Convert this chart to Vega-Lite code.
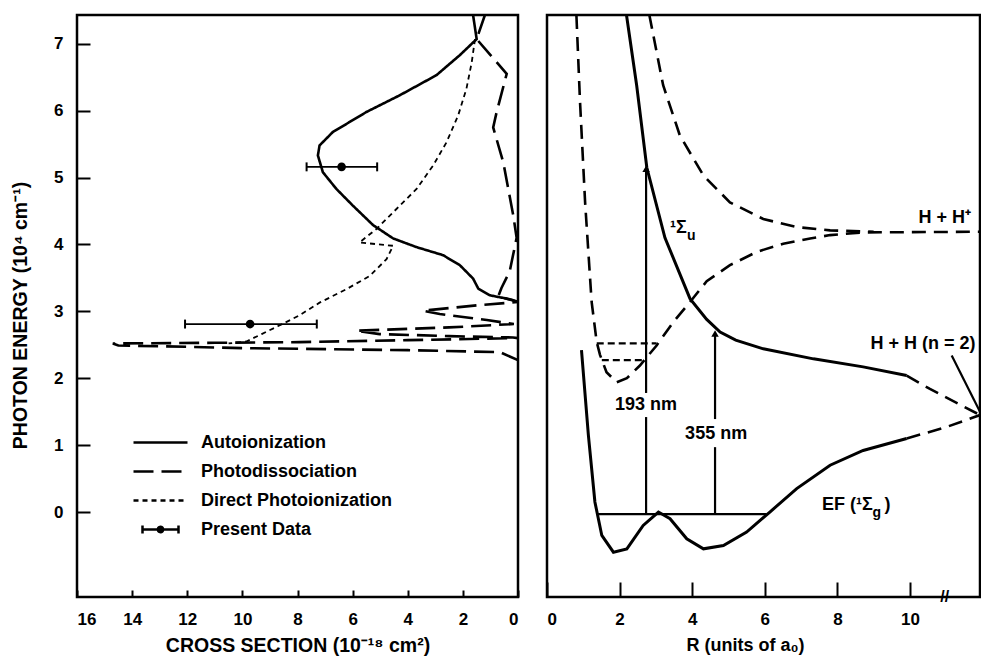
{
  "$schema": "https://vega.github.io/schema/vega-lite/v6.json",
  "padding": {"left": 8, "top": 13, "right": 0, "bottom": 0},
  "bounds": "flush",
  "spacing": 29,
  "config": {
    "font": "Liberation Sans",
    "view": {"stroke": "black", "strokeWidth": 2.5},
    "axis": {"grid": false, "domain": false, "tickColor": "black", "tickWidth": 2, "labelColor": "black", "titleColor": "black", "labelFont": "Liberation Sans", "labelFontWeight": "bold", "labelFontSize": 17, "titleFont": "Liberation Sans", "titleFontWeight": "bold", "titleFontSize": 18},
    "text": {"font": "Liberation Sans", "fontWeight": "bold", "color": "black"}
  },
  "datasets": {
    "curves": [
      {"series": "Autoionization", "o": 1, "cs": 1.63, "E": 7.43},
      {"series": "Autoionization", "o": 2, "cs": 1.5, "E": 7.07},
      {"series": "Autoionization", "o": 3, "cs": 2.11, "E": 6.83},
      {"series": "Autoionization", "o": 4, "cs": 2.96, "E": 6.53},
      {"series": "Autoionization", "o": 5, "cs": 4.29, "E": 6.23},
      {"series": "Autoionization", "o": 6, "cs": 5.5, "E": 5.98},
      {"series": "Autoionization", "o": 7, "cs": 6.72, "E": 5.68},
      {"series": "Autoionization", "o": 8, "cs": 7.2, "E": 5.48},
      {"series": "Autoionization", "o": 9, "cs": 7.26, "E": 5.33},
      {"series": "Autoionization", "o": 10, "cs": 7.08, "E": 5.08},
      {"series": "Autoionization", "o": 11, "cs": 6.59, "E": 4.83},
      {"series": "Autoionization", "o": 12, "cs": 5.99, "E": 4.58},
      {"series": "Autoionization", "o": 13, "cs": 5.26, "E": 4.29},
      {"series": "Autoionization", "o": 14, "cs": 4.53, "E": 4.09},
      {"series": "Autoionization", "o": 15, "cs": 3.68, "E": 3.96},
      {"series": "Autoionization", "o": 16, "cs": 2.72, "E": 3.84},
      {"series": "Autoionization", "o": 17, "cs": 2.11, "E": 3.69},
      {"series": "Autoionization", "o": 18, "cs": 1.63, "E": 3.49},
      {"series": "Autoionization", "o": 19, "cs": 1.44, "E": 3.34},
      {"series": "Autoionization", "o": 20, "cs": 1.02, "E": 3.24},
      {"series": "Autoionization", "o": 21, "cs": 0.41, "E": 3.19},
      {"series": "Autoionization", "o": 22, "cs": 0, "E": 3.14},
      {"series": "Photodissociation", "o": 1, "cs": 1.2, "E": 7.43},
      {"series": "Photodissociation", "o": 2, "cs": 1.5, "E": 7.07},
      {"series": "Photodissociation", "o": 3, "cs": 0.41, "E": 6.55},
      {"series": "Photodissociation", "o": 4, "cs": 0.78, "E": 5.97},
      {"series": "Photodissociation", "o": 5, "cs": 0.9, "E": 5.75},
      {"series": "Photodissociation", "o": 6, "cs": 0.53, "E": 5.22},
      {"series": "Photodissociation", "o": 7, "cs": 0.17, "E": 4.43},
      {"series": "Photodissociation", "o": 8, "cs": 0.05, "E": 4.1},
      {"series": "Photodissociation", "o": 9, "cs": 0.3, "E": 3.6},
      {"series": "Photodissociation", "o": 10, "cs": 0.6, "E": 3.35},
      {"series": "Photodissociation", "o": 11, "cs": 0.72, "E": 3.22},
      {"series": "Photodissociation", "o": 12, "cs": 0.2, "E": 3.17},
      {"series": "Photodissociation", "o": 13, "cs": 0, "E": 3.14},
      {"series": "Photodissociation", "o": 14, "cs": 1.5, "E": 3.09},
      {"series": "Photodissociation", "o": 15, "cs": 3.44, "E": 3.01},
      {"series": "Photodissociation", "o": 16, "cs": 2.84, "E": 2.96},
      {"series": "Photodissociation", "o": 17, "cs": 1.13, "E": 2.87},
      {"series": "Photodissociation", "o": 18, "cs": 0.15, "E": 2.81},
      {"series": "Photodissociation", "o": 19, "cs": 2.5, "E": 2.76},
      {"series": "Photodissociation", "o": 20, "cs": 5.87, "E": 2.71},
      {"series": "Photodissociation", "o": 21, "cs": 5.02, "E": 2.66},
      {"series": "Photodissociation", "o": 22, "cs": 2.5, "E": 2.63},
      {"series": "Photodissociation", "o": 23, "cs": 0.18, "E": 2.61},
      {"series": "Photodissociation", "o": 24, "cs": 0, "E": 2.6},
      {"series": "Photodissociation", "o": 25, "cs": 4, "E": 2.57},
      {"series": "Photodissociation", "o": 26, "cs": 7.93, "E": 2.54},
      {"series": "Photodissociation", "o": 27, "cs": 11, "E": 2.53},
      {"series": "Photodissociation", "o": 28, "cs": 14.7, "E": 2.52},
      {"series": "Photodissociation", "o": 29, "cs": 14.5, "E": 2.49},
      {"series": "Photodissociation", "o": 30, "cs": 12, "E": 2.47},
      {"series": "Photodissociation", "o": 31, "cs": 10, "E": 2.45},
      {"series": "Photodissociation", "o": 32, "cs": 7.9, "E": 2.44},
      {"series": "Photodissociation", "o": 33, "cs": 4, "E": 2.42},
      {"series": "Photodissociation", "o": 34, "cs": 0.65, "E": 2.39},
      {"series": "Photodissociation", "o": 35, "cs": 0, "E": 2.27},
      {"series": "Direct Photoionization", "o": 1, "cs": 1.56, "E": 7.07},
      {"series": "Direct Photoionization", "o": 2, "cs": 1.68, "E": 6.72},
      {"series": "Direct Photoionization", "o": 3, "cs": 1.87, "E": 6.33},
      {"series": "Direct Photoionization", "o": 4, "cs": 2.17, "E": 5.93},
      {"series": "Direct Photoionization", "o": 5, "cs": 2.59, "E": 5.53},
      {"series": "Direct Photoionization", "o": 6, "cs": 3.08, "E": 5.18},
      {"series": "Direct Photoionization", "o": 7, "cs": 3.68, "E": 4.83},
      {"series": "Direct Photoionization", "o": 8, "cs": 4.41, "E": 4.53},
      {"series": "Direct Photoionization", "o": 9, "cs": 5.14, "E": 4.23},
      {"series": "Direct Photoionization", "o": 10, "cs": 5.75, "E": 4.03},
      {"series": "Direct Photoionization", "o": 11, "cs": 4.53, "E": 3.98},
      {"series": "Direct Photoionization", "o": 12, "cs": 4.77, "E": 3.78},
      {"series": "Direct Photoionization", "o": 13, "cs": 5.38, "E": 3.53},
      {"series": "Direct Photoionization", "o": 14, "cs": 6.23, "E": 3.33},
      {"series": "Direct Photoionization", "o": 15, "cs": 7.2, "E": 3.13},
      {"series": "Direct Photoionization", "o": 16, "cs": 7.93, "E": 2.94},
      {"series": "Direct Photoionization", "o": 17, "cs": 8.7, "E": 2.78},
      {"series": "Direct Photoionization", "o": 18, "cs": 9.3, "E": 2.66},
      {"series": "Direct Photoionization", "o": 19, "cs": 9.85, "E": 2.55},
      {"series": "Direct Photoionization", "o": 20, "cs": 10.5, "E": 2.52}
    ],
    "points": [
      {"series": "Present Data", "cs": 6.4, "lo": 7.67, "hi": 5.11, "E": 5.16},
      {"series": "Present Data", "cs": 9.72, "lo": 12.08, "hi": 7.3, "E": 2.81}
    ],
    "rcurves": [
      {"curve": "A", "style": "dash", "o": 1, "R": 0.81, "E": 7.43},
      {"curve": "A", "style": "dash", "o": 2, "R": 0.91, "E": 6.13},
      {"curve": "A", "style": "dash", "o": 3, "R": 1.05, "E": 4.63},
      {"curve": "A", "style": "dash", "o": 4, "R": 1.23, "E": 3.14},
      {"curve": "A", "style": "dash", "o": 5, "R": 1.37, "E": 2.54},
      {"curve": "A", "style": "dash", "o": 6, "R": 1.46, "E": 2.35},
      {"curve": "A", "style": "dash", "o": 7, "R": 1.64, "E": 2.09},
      {"curve": "A", "style": "dash", "o": 8, "R": 1.92, "E": 1.94},
      {"curve": "A", "style": "dash", "o": 9, "R": 2.2, "E": 2.0},
      {"curve": "A", "style": "dash", "o": 10, "R": 2.56, "E": 2.19},
      {"curve": "A", "style": "dash", "o": 11, "R": 3.02, "E": 2.49},
      {"curve": "A", "style": "dash", "o": 12, "R": 3.48, "E": 2.84},
      {"curve": "A", "style": "dash", "o": 13, "R": 3.94, "E": 3.14},
      {"curve": "A", "style": "dash", "o": 14, "R": 4.4, "E": 3.45},
      {"curve": "A", "style": "dash", "o": 15, "R": 5.04, "E": 3.69},
      {"curve": "A", "style": "dash", "o": 16, "R": 5.78, "E": 3.89},
      {"curve": "A", "style": "dash", "o": 17, "R": 6.51, "E": 4.01},
      {"curve": "A", "style": "dash", "o": 18, "R": 7.25, "E": 4.09},
      {"curve": "A", "style": "dash", "o": 19, "R": 7.8, "E": 4.14},
      {"curve": "A", "style": "dash", "o": 20, "R": 8.7, "E": 4.18},
      {"curve": "A", "style": "dash", "o": 21, "R": 11.93, "E": 4.19},
      {"curve": "B", "style": "dash", "o": 1, "R": 2.82, "E": 7.43},
      {"curve": "B", "style": "dash", "o": 2, "R": 3.2, "E": 6.38},
      {"curve": "B", "style": "dash", "o": 3, "R": 3.66, "E": 5.63},
      {"curve": "B", "style": "dash", "o": 4, "R": 4.31, "E": 5.03},
      {"curve": "B", "style": "dash", "o": 5, "R": 5.04, "E": 4.63},
      {"curve": "B", "style": "dash", "o": 6, "R": 5.96, "E": 4.38},
      {"curve": "B", "style": "dash", "o": 7, "R": 6.88, "E": 4.26},
      {"curve": "B", "style": "dash", "o": 8, "R": 7.8, "E": 4.21},
      {"curve": "B", "style": "dash", "o": 9, "R": 9.0, "E": 4.19},
      {"curve": "C", "style": "solid", "o": 1, "R": 2.19, "E": 7.43},
      {"curve": "C", "style": "solid", "o": 2, "R": 2.47, "E": 6.38},
      {"curve": "C", "style": "solid", "o": 3, "R": 2.75, "E": 5.15},
      {"curve": "C", "style": "solid", "o": 4, "R": 3.25, "E": 4.1},
      {"curve": "C", "style": "solid", "o": 5, "R": 3.94, "E": 3.19},
      {"curve": "C", "style": "solid", "o": 6, "R": 4.4, "E": 2.88},
      {"curve": "C", "style": "solid", "o": 7, "R": 4.77, "E": 2.69},
      {"curve": "C", "style": "solid", "o": 8, "R": 5.2, "E": 2.57},
      {"curve": "C", "style": "solid", "o": 9, "R": 5.96, "E": 2.44},
      {"curve": "C", "style": "solid", "o": 10, "R": 7.34, "E": 2.29},
      {"curve": "C", "style": "solid", "o": 11, "R": 8.71, "E": 2.17},
      {"curve": "C", "style": "solid", "o": 12, "R": 9.91, "E": 2.04},
      {"curve": "Cx", "style": "dash", "o": 1, "R": 9.91, "E": 2.04},
      {"curve": "Cx", "style": "dash", "o": 2, "R": 10.55, "E": 1.84},
      {"curve": "Cx", "style": "dash", "o": 3, "R": 11.93, "E": 1.45},
      {"curve": "D", "style": "solid", "o": 1, "R": 0.95, "E": 2.42},
      {"curve": "D", "style": "solid", "o": 2, "R": 1.14, "E": 1.15},
      {"curve": "D", "style": "solid", "o": 3, "R": 1.32, "E": 0.15},
      {"curve": "D", "style": "solid", "o": 4, "R": 1.51, "E": -0.35},
      {"curve": "D", "style": "solid", "o": 5, "R": 1.83, "E": -0.6},
      {"curve": "D", "style": "solid", "o": 6, "R": 2.2, "E": -0.55},
      {"curve": "D", "style": "solid", "o": 7, "R": 2.65, "E": -0.2},
      {"curve": "D", "style": "solid", "o": 8, "R": 3.07, "E": 0.0},
      {"curve": "D", "style": "solid", "o": 9, "R": 3.39, "E": -0.1},
      {"curve": "D", "style": "solid", "o": 10, "R": 3.85, "E": -0.4},
      {"curve": "D", "style": "solid", "o": 11, "R": 4.31, "E": -0.55},
      {"curve": "D", "style": "solid", "o": 12, "R": 4.86, "E": -0.5},
      {"curve": "D", "style": "solid", "o": 13, "R": 5.5, "E": -0.3},
      {"curve": "D", "style": "solid", "o": 14, "R": 6.14, "E": 0.0},
      {"curve": "D", "style": "solid", "o": 15, "R": 6.88, "E": 0.35},
      {"curve": "D", "style": "solid", "o": 16, "R": 7.8, "E": 0.7},
      {"curve": "D", "style": "solid", "o": 17, "R": 8.71, "E": 0.92},
      {"curve": "D", "style": "solid", "o": 18, "R": 9.91, "E": 1.1},
      {"curve": "Dx", "style": "dash", "o": 1, "R": 9.91, "E": 1.1},
      {"curve": "Dx", "style": "dash", "o": 2, "R": 11.0, "E": 1.27},
      {"curve": "Dx", "style": "dash", "o": 3, "R": 11.93, "E": 1.45},
      {"curve": "L1", "style": "dot", "o": 1, "R": 1.37, "E": 2.52},
      {"curve": "L1", "style": "dot", "o": 2, "R": 3.02, "E": 2.52},
      {"curve": "L2", "style": "dot", "o": 1, "R": 1.51, "E": 2.27},
      {"curve": "L2", "style": "dot", "o": 2, "R": 2.65, "E": 2.27}
    ],
    "rrules": [
      {"R": 1.37, "R2": 6.05, "E": -0.03, "E2": -0.03},
      {"R": 2.73, "R2": 2.73, "E": -0.03, "E2": 1.42},
      {"R": 2.73, "R2": 2.73, "E": 1.78, "E2": 5.12},
      {"R": 4.63, "R2": 4.63, "E": -0.03, "E2": 0.97},
      {"R": 4.63, "R2": 4.63, "E": 1.39, "E2": 2.66},
      {"R": 11.15, "R2": 11.93, "E": 2.34, "E2": 1.5}
    ],
    "arrows": [
      {"R": 2.73, "E": 5.13},
      {"R": 4.63, "E": 2.67}
    ],
    "rlabels": [
      {"text": "193 nm", "R": 2.73, "E": 1.6},
      {"text": "355 nm", "R": 4.66, "E": 1.17},
      {"text": "H + H⁺", "R": 10.96, "E": 4.39},
      {"text": "H + H (n = 2)", "R": 10.36, "E": 2.51}
    ],
    "rlabelsLeft": [
      {"text": "¹Σ", "R": 3.39, "E": 4.25},
      {"text": "EF (¹Σ", "R": 7.58, "E": 0.1},
      {"text": ")", "R": 9.3, "E": 0.1}
    ],
    "rsubs": [
      {"text": "u", "R": 3.86, "E": 4.12},
      {"text": "g", "R": 8.97, "E": -0.02}
    ],
    "breaks": [
      {"text": "//", "R": 10.96, "E": -1.27}
    ]
  },
  "hconcat": [
    {
      "width": 441,
      "height": 582,
      "encoding": {
        "y": {"field": "E", "type": "quantitative", "scale": {"domain": [-1.27, 7.43], "nice": false, "zero": false},
          "axis": {"values": [0, 1, 2, 3, 4, 5, 6, 7], "tickSize": -13, "labelPadding": 27, "title": "PHOTON ENERGY (10⁴ cm⁻¹)", "titleFontSize": 19.5, "titleX": -57, "titleY": 300, "titleBaseline": "middle", "titleAngle": -90}}
      },
      "layer": [
        {
          "data": {"name": "curves"},
          "transform": [{"filter": "datum.series === 'Autoionization'"}],
          "mark": {"type": "line", "color": "black", "strokeWidth": 2.6, "clip": true},
          "encoding": {
            "x": {"field": "cs", "type": "quantitative", "scale": {"domain": [0, 16], "reverse": true, "nice": false},
              "axis": {"values": [0, 2, 4, 6, 8, 10, 12, 14, 16], "tickSize": -7, "labelPadding": 21, "title": "CROSS SECTION (10⁻¹⁸ cm²)", "titleFontSize": 19.5, "titlePadding": 9}},
            "order": {"field": "o", "type": "quantitative"},
            "strokeDash": {"field": "series", "type": "nominal",
              "scale": {"domain": ["Autoionization", "Photodissociation", "Direct Photoionization", "Present Data"], "range": [[1, 0], [20, 8], [5, 4], [1, 0]]},
              "legend": {"title": null, "orient": "none", "direction": "vertical", "legendX": 73, "legendY": 417, "symbolSize": 324, "symbolStrokeWidth": 2.5, "labelFontSize": 18, "labelFontWeight": "bold", "labelFont": "Liberation Sans", "labelColor": "black", "labelOffset": 30, "labelLimit": 0, "rowPadding": 9,
                "encode": {"symbols": {"update": {"fill": {"value": "black"}, "stroke": {"value": "black"}, "opacity": {"value": 1}, "fillOpacity": {"value": 1}, "strokeWidth": {"value": 2.5}}}}}
            }
          }
        },
        {
          "data": {"name": "curves"},
          "transform": [{"filter": "datum.series === 'Photodissociation'"}],
          "mark": {"type": "line", "color": "black", "strokeWidth": 2.6, "clip": true},
          "encoding": {
            "x": {"field": "cs", "type": "quantitative", "scale": {"domain": [0, 16], "reverse": true, "nice": false}},
            "order": {"field": "o", "type": "quantitative"},
            "strokeDash": {"field": "series", "type": "nominal"}
          }
        },
        {
          "data": {"name": "curves"},
          "transform": [{"filter": "datum.series === 'Direct Photoionization'"}],
          "mark": {"type": "line", "color": "black", "strokeWidth": 1.8, "clip": true},
          "encoding": {
            "x": {"field": "cs", "type": "quantitative", "scale": {"domain": [0, 16], "reverse": true, "nice": false}},
            "order": {"field": "o", "type": "quantitative"},
            "strokeDash": {"field": "series", "type": "nominal"}
          }
        },
        {
          "data": {"name": "points"},
          "mark": {"type": "rule", "color": "black", "strokeWidth": 1.8},
          "encoding": {
            "x": {"field": "lo", "type": "quantitative", "scale": {"domain": [0, 16], "reverse": true, "nice": false}},
            "x2": {"field": "hi"}
          }
        },
        {
          "data": {"name": "points"},
          "mark": {"type": "point", "shape": "stroke", "angle": 90, "size": 80, "strokeWidth": 2, "color": "black", "filled": false, "opacity": 1},
          "encoding": {
            "x": {"field": "lo", "type": "quantitative", "scale": {"domain": [0, 16], "reverse": true, "nice": false}}
          }
        },
        {
          "data": {"name": "points"},
          "mark": {"type": "point", "shape": "stroke", "angle": 90, "size": 80, "strokeWidth": 2, "color": "black", "filled": false, "opacity": 1},
          "encoding": {
            "x": {"field": "hi", "type": "quantitative", "scale": {"domain": [0, 16], "reverse": true, "nice": false}}
          }
        },
        {
          "data": {"name": "points"},
          "mark": {"type": "point", "shape": "circle", "size": 75, "filled": true, "color": "black", "opacity": 1},
          "encoding": {
            "x": {"field": "cs", "type": "quantitative", "scale": {"domain": [0, 16], "reverse": true, "nice": false}}
          }
        },
        {
          "data": {"name": "points"},
          "mark": {"type": "point", "size": 0, "filled": true, "color": "black"},
          "encoding": {
            "x": {"field": "cs", "type": "quantitative", "scale": {"domain": [0, 16], "reverse": true, "nice": false}},
            "shape": {"field": "series", "type": "nominal",
              "scale": {"domain": ["Autoionization", "Photodissociation", "Direct Photoionization", "Present Data"],
                "range": ["M-3,0H3", "M-3,0H3", "M-3,0H3", "M-2,-0.45V0.45M-2,0H2M2,-0.45V0.45M-0.3,0A0.3,0.3 0 1 1 0.3,0A0.3,0.3 0 1 1 -0.3,0M-0.2,0A0.2,0.2 0 1 1 0.2,0A0.2,0.2 0 1 1 -0.2,0M-0.1,0A0.1,0.1 0 1 1 0.1,0A0.1,0.1 0 1 1 -0.1,0"]},
              "legend": {"title": null, "orient": "none", "direction": "vertical", "legendX": 73, "legendY": 417, "symbolSize": 324, "symbolStrokeWidth": 2.5, "labelFontSize": 18, "labelFontWeight": "bold", "labelFont": "Liberation Sans", "labelColor": "black", "labelOffset": 30, "labelLimit": 0, "rowPadding": 9,
                "encode": {"symbols": {"update": {"fill": {"value": "black"}, "stroke": {"value": "black"}, "opacity": {"value": 1}, "fillOpacity": {"value": 1}, "strokeWidth": {"value": 2.5}}}}}
            }
          }
        }
      ]
    },
    {
      "width": 433,
      "height": 582,
      "encoding": {
        "x": {"field": "R", "type": "quantitative", "scale": {"domain": [0, 11.93], "nice": false, "zero": false},
          "axis": {"values": [0, 2, 4, 6, 8, 10], "tickSize": -15, "labelPadding": 29, "title": "R (units of a₀)", "titlePadding": 9, "titleX": 198}},
        "y": {"field": "E", "type": "quantitative", "scale": {"domain": [-1.27, 7.43], "nice": false, "zero": false}, "axis": null}
      },
      "layer": [
        {
          "data": {"name": "rcurves"},
          "transform": [{"filter": "datum.style === 'solid'"}],
          "mark": {"type": "line", "color": "black", "strokeWidth": 3, "clip": true},
          "encoding": {"detail": {"field": "curve"}, "order": {"field": "o", "type": "quantitative"}}
        },
        {
          "data": {"name": "rcurves"},
          "transform": [{"filter": "datum.style === 'dash'"}],
          "mark": {"type": "line", "color": "black", "strokeWidth": 2.6, "strokeDash": [14, 8], "clip": true},
          "encoding": {"detail": {"field": "curve"}, "order": {"field": "o", "type": "quantitative"}}
        },
        {
          "data": {"name": "rcurves"},
          "transform": [{"filter": "datum.style === 'dot'"}],
          "mark": {"type": "line", "color": "black", "strokeWidth": 2.2, "strokeDash": [7, 4], "clip": true},
          "encoding": {"detail": {"field": "curve"}, "order": {"field": "o", "type": "quantitative"}}
        },
        {
          "data": {"name": "rrules"},
          "mark": {"type": "rule", "color": "black", "strokeWidth": 2.2},
          "encoding": {"x2": {"field": "R2"}, "y2": {"field": "E2"}}
        },
        {
          "data": {"name": "arrows"},
          "mark": {"type": "point", "shape": "triangle-up", "size": 55, "filled": true, "color": "black", "opacity": 1}
        },
        {
          "data": {"name": "rlabels"},
          "mark": {"type": "text", "fontSize": 18, "align": "center", "baseline": "middle"},
          "encoding": {"text": {"field": "text"}}
        },
        {
          "data": {"name": "rlabelsLeft"},
          "mark": {"type": "text", "fontSize": 18, "align": "left", "baseline": "middle"},
          "encoding": {"text": {"field": "text"}}
        },
        {
          "data": {"name": "rsubs"},
          "mark": {"type": "text", "fontSize": 14, "align": "left", "baseline": "middle"},
          "encoding": {"text": {"field": "text"}}
        },
        {
          "data": {"name": "breaks"},
          "mark": {"type": "text", "fontSize": 16, "align": "center", "baseline": "middle"},
          "encoding": {"text": {"field": "text"}}
        }
      ]
    }
  ]
}
